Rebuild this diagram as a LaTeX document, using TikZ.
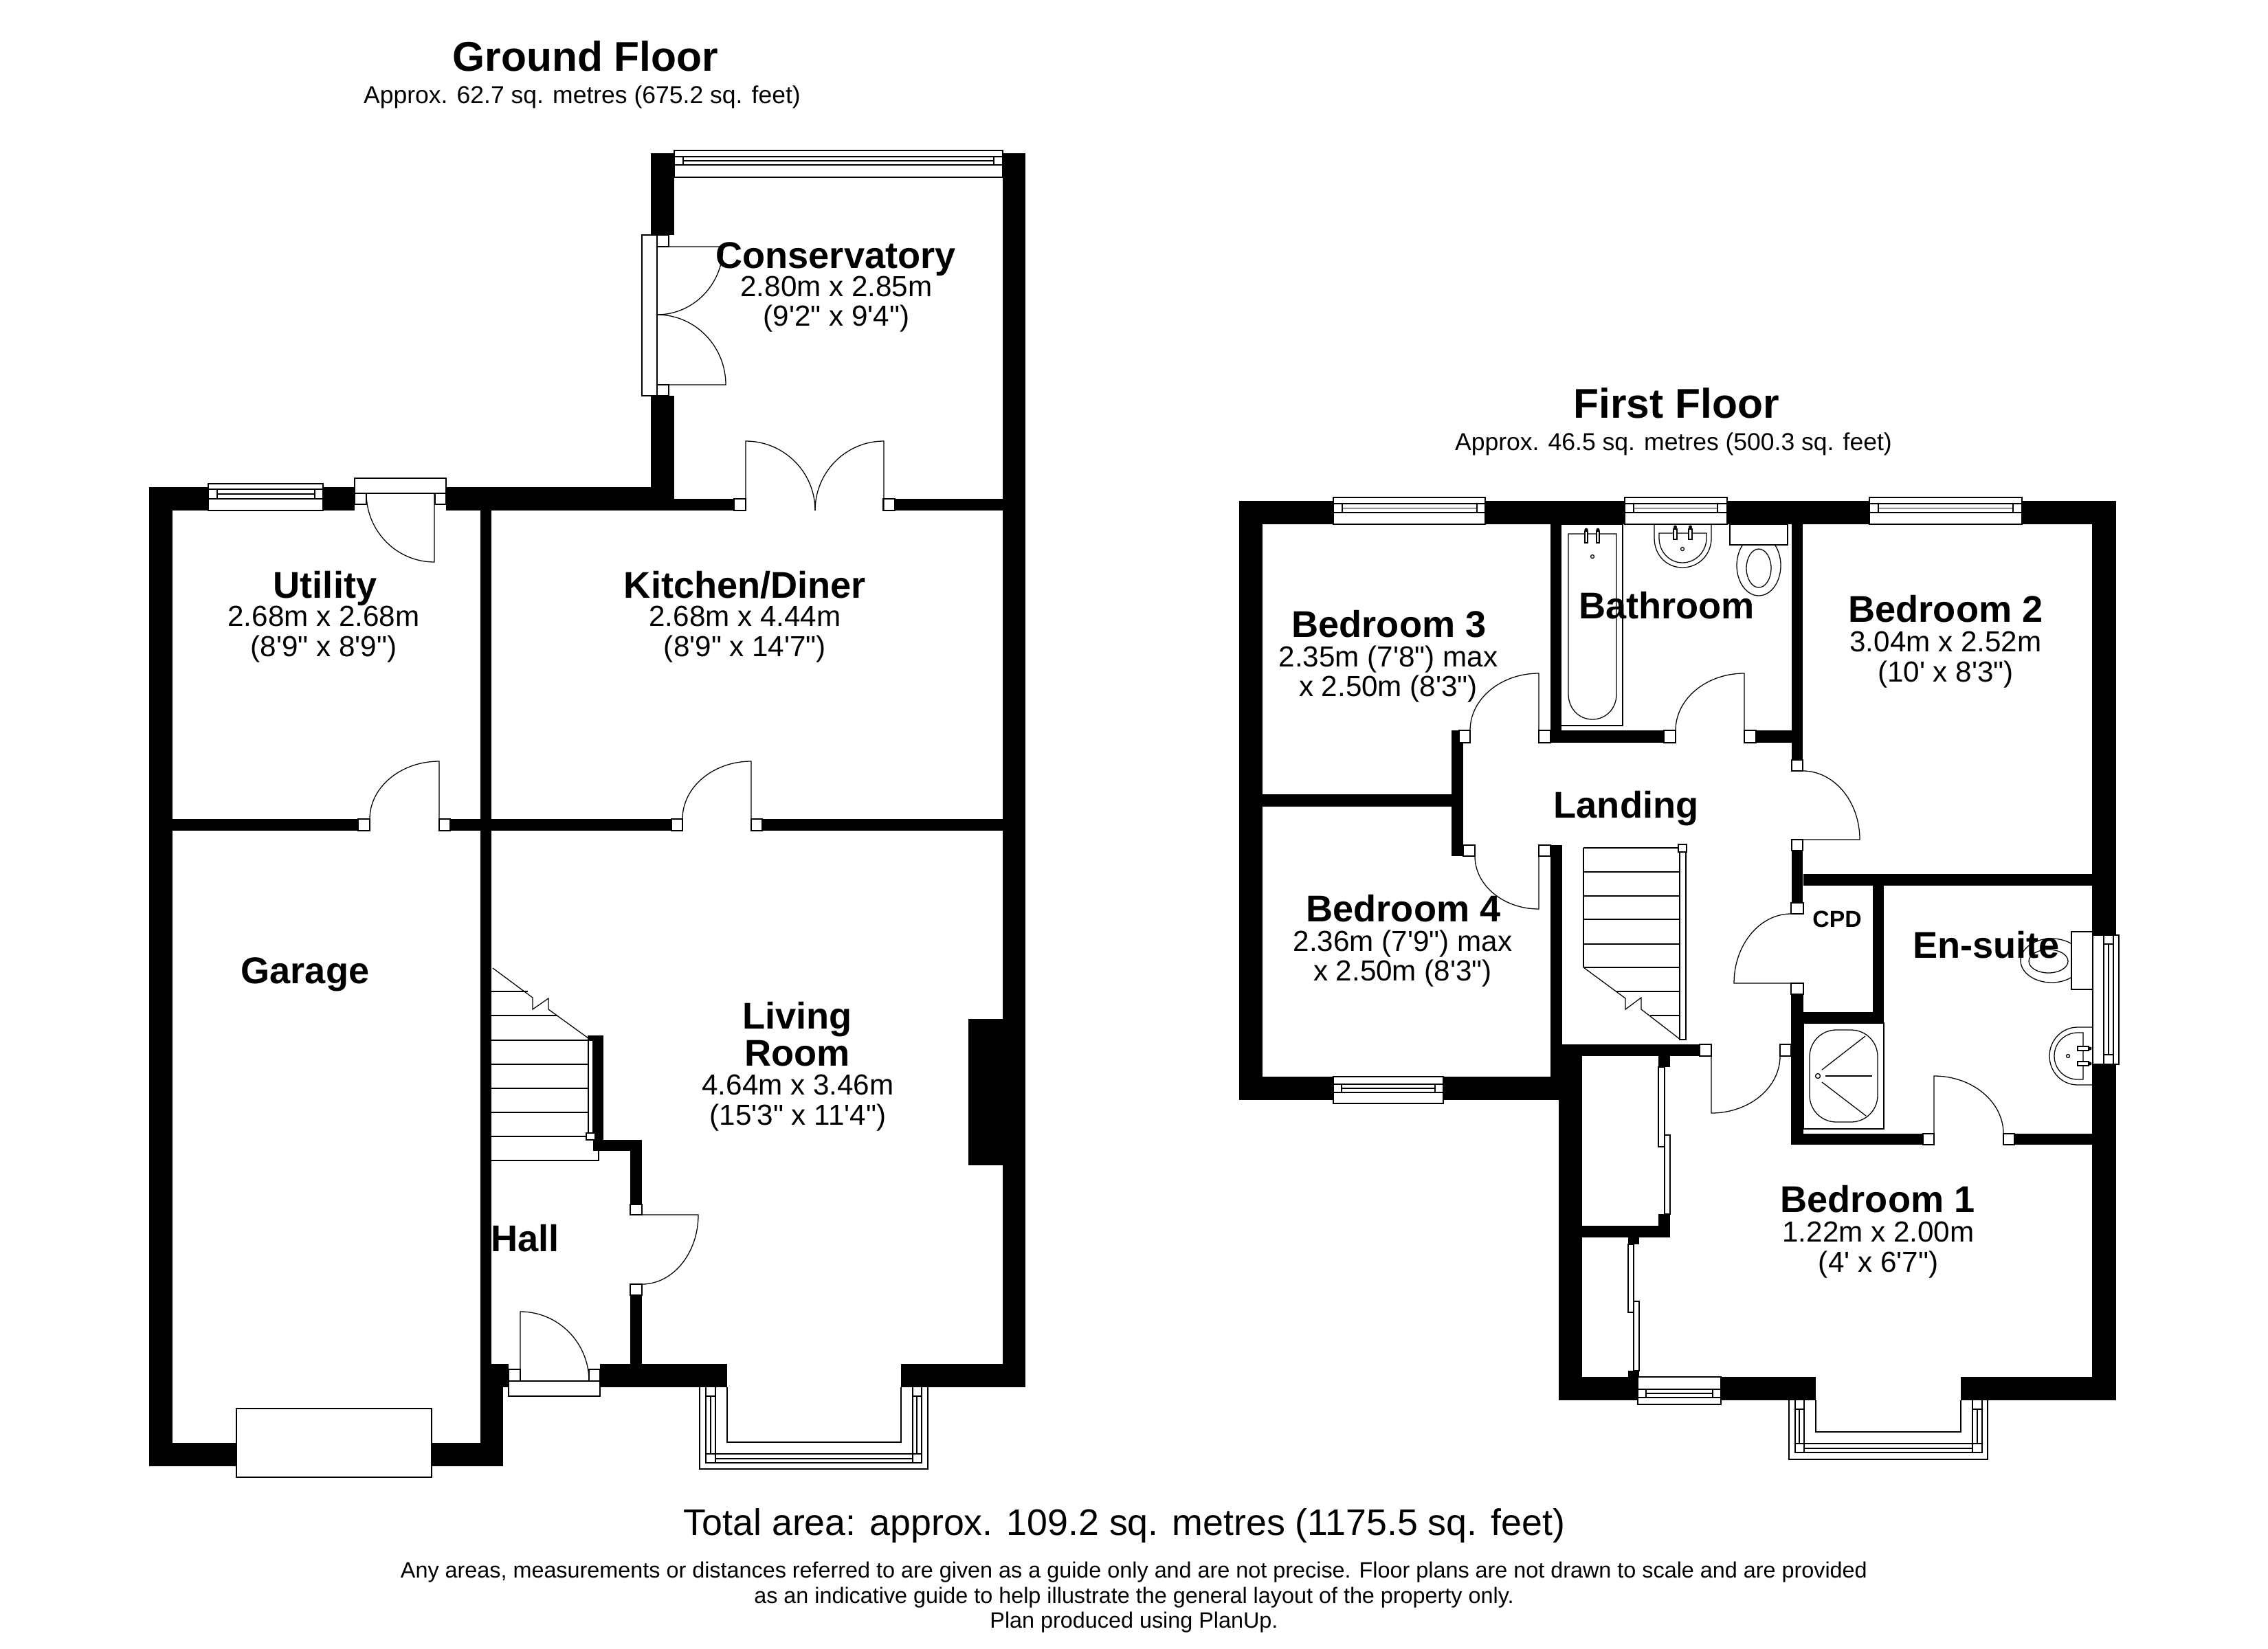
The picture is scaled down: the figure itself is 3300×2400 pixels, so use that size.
\documentclass[tikz,border=0pt]{standalone}
\usepackage{fontspec}
\usetikzlibrary{calc}
\newfontfamily\planfont{Liberation Sans}

% hinge, tip of the leaf, end of the swing
\newcommand{\doorleaf}[3]{\draw[fixture] (#1) -- (#2) .. controls ($(#2)+.5523*(#3)-.5523*(#1)$) and ($(#3)+.5523*(#2)-.5523*(#1)$) .. (#3);}

\tikzset{
  wall/.style={fill=black},
  fixture/.style={draw=black, line width=0.36pt},
  frame/.style={draw=black, fill=white, line width=0.36pt},
  floorname/.style={font=\planfont\bfseries\fontsize{17.2}{20}\selectfont, inner sep=0},
  floorarea/.style={font=\planfont\fontsize{10.1}{12}\selectfont, inner sep=0},
  roomname/.style={font=\planfont\bfseries\fontsize{15.4}{15.4}\selectfont, inner sep=0, align=center, anchor=base},
  roomsize/.style={font=\planfont\fontsize{12}{12.3}\selectfont, inner sep=0, align=center},
  totalarea/.style={font=\planfont\fontsize{15.28}{18}\selectfont, inner sep=0},
  smallprint/.style={font=\planfont\fontsize{9.2}{10.4}\selectfont, inner sep=0, align=center}
}

\begin{document}
\begin{tikzpicture}[x=0.01cm, y=-0.01cm]
    \useasboundingbox (0,0) rectangle (3300,2400);
    \fill[white] (0,0) rectangle (3300,2400);

    % ground floor: the walls
    \fill[wall] (947,223) rectangle (981,342);
    \fill[wall] (947,576) rectangle (981,743);
    \fill[wall] (1459,223) rectangle (1492,2019);
    \fill[wall] (217,709) rectangle (516,743);
    \fill[wall] (649,709) rectangle (947,743);
    \fill[wall] (947,726) rectangle (1068,743);
    \fill[wall] (1302,726) rectangle (1459,743);
    \fill[wall] (217,709) rectangle (251,2134);
    \fill[wall] (699,743) rectangle (715,1985);
    \fill[wall] (699,1985) rectangle (740,2019);
    \fill[wall] (699,2019) rectangle (732,2134);
    \fill[wall] (217,2100) rectangle (732,2134);
    \fill[wall] (251,1192) rectangle (521,1209);
    \fill[wall] (655,1192) rectangle (699,1209);
    \fill[wall] (715,1192) rectangle (977,1209);
    \fill[wall] (1109,1192) rectangle (1459,1209);
    \fill[wall] (873,1985) rectangle (1058,2019);
    \fill[wall] (1311,1985) rectangle (1492,2019);
    \fill[wall] (917,1659) rectangle (934,1753);
    \fill[wall] (917,1885) rectangle (934,1985);
    \fill[wall] (871,1659) rectangle (934,1675);
    \fill[wall] (863,1507) rectangle (878,1675);
    \fill[wall] (855,1507) rectangle (878,1514);
    \fill[wall] (1409,1483) rectangle (1459,1696);

    % ground floor: door jambs
    \foreach \xa/\ya/\xb/\yb in {956/342/973/359, 956/560/973/576, 1068/726/1085/743, 1285/726/1302/743,
        516/718/533/734, 633/718/649/734, 521/1192/538/1209, 639/1192/655/1209, 977/1192/993/1209,
        1093/1192/1109/1209, 917/1753/934/1768, 917/1869/934/1885, 740/1993/757/2010, 857/1993/873/2010}
      \draw[frame] (\xa,\ya) rectangle (\xb,\yb);

    % ground floor: the doors
    \draw[frame] (934,342) rectangle (956,576);
    \doorleaf{956,359}{1052,359}{956,458}
    \doorleaf{956,560}{1056,560}{956,458}
    \doorleaf{1085,743}{1085,642}{1186,743}
    \doorleaf{1286,743}{1286,642}{1186,743}
    \draw[frame] (516,696) rectangle (649,718);
    \doorleaf{632,718}{632,818}{533,718}
    \doorleaf{639,1192}{639,1108}{538,1192}
    \doorleaf{1093,1192}{1093,1108}{993,1192}
    \doorleaf{934,1768}{1016,1768}{934,1869}
    \draw[frame] (740,2010) rectangle (873,2032);
    \doorleaf{757,2010}{757,1909}{857,2010}
    \draw[frame] (344,2050) rectangle (628,2150);

    % ground floor: the bay
    \draw[fixture] (1018,2019) -- (1018,2138) -- (1350,2138) -- (1350,2019);
    \draw[fixture] (1027,2019) -- (1027,2129) -- (1341,2129) -- (1341,2019);
    \draw[fixture] (1058,2019) -- (1058,2099) -- (1311,2099) -- (1311,2019);
    \draw[fixture] (1041,2019) -- (1041,2129);
    \draw[fixture] (1328,2019) -- (1328,2129);
    \draw[fixture] (1027,2032) -- (1041,2032);
    \draw[fixture] (1328,2032) -- (1341,2032);
    \draw[fixture] (1034,2032) -- (1034,2116);
    \draw[fixture] (1334,2032) -- (1334,2116);
    \draw[fixture] (1027,2116) -- (1341,2116);
    \draw[fixture] (1041,2123) -- (1328,2123);

    % ground floor: the stairs
    \foreach \y in {1514,1549,1584,1619,1654}
      \draw[fixture] (715,\y) -- (856,\y);
    \draw[fixture] (715,1443) -- (768,1443);
    \draw[fixture] (715,1478) -- (811,1478);
    \draw[fixture] (715,1689) -- (871,1689) -- (871,1675);
    \draw[fixture] (717,1409) -- (775,1452) -- (775,1469) -- (798,1453) -- (798,1469) -- (856,1511);
    \draw[frame] (856,1514) rectangle (863,1653);
    \draw[frame] (853,1649) rectangle (866,1659);

    % first floor: the walls
    \fill[wall] (1803,729) rectangle (3079,763);
    \fill[wall] (1803,729) rectangle (1837,1601);
    \fill[wall] (1803,1567) rectangle (2268,1601);
    \fill[wall] (3044,729) rectangle (3079,2038);
    \fill[wall] (1837,1156) rectangle (2112,1174);
    \fill[wall] (2112,1063) rectangle (2129,1246);
    \fill[wall] (2256,763) rectangle (2272,1081);
    \fill[wall] (2256,1063) rectangle (2421,1081);
    \fill[wall] (2555,1063) rectangle (2607,1081);
    \fill[wall] (2607,763) rectangle (2623,1106);
    \fill[wall] (2607,1238) rectangle (2623,1315);
    \fill[wall] (2606,1447) rectangle (2624,1666);
    \fill[wall] (2256,1230) rectangle (2273,1567);
    \fill[wall] (2268,1520) rectangle (2302,2038);
    \fill[wall] (2268,1520) rectangle (2473,1537);
    \fill[wall] (2268,2004) rectangle (2642,2038);
    \fill[wall] (2853,2004) rectangle (3079,2038);
    \fill[wall] (2624,1272) rectangle (3044,1289);
    \fill[wall] (2725,1289) rectangle (2741,1489);
    \fill[wall] (2624,1473) rectangle (2741,1489);
    \fill[wall] (2606,1650) rectangle (2798,1666);
    \fill[wall] (2931,1650) rectangle (3044,1666);
    \fill[wall] (2302,1784) rectangle (2430,1801);
    \fill[wall] (2413,1767) rectangle (2430,1801);
    \fill[wall] (2413,1537) rectangle (2430,1553);
    \fill[wall] (2369,1801) rectangle (2385,1811);
    \fill[wall] (2369,1995) rectangle (2385,2004);

    % first floor: door jambs
    \foreach \xa/\ya/\xb/\yb in {2123/1063/2139/1081, 2239/1063/2256/1081, 2421/1063/2438/1081,
        2538/1063/2555/1081, 2607/1106/2623/1122, 2607/1222/2623/1238, 2606/1314/2624/1330,
        2606/1431/2624/1447, 2129/1230/2146/1246, 2239/1230/2256/1246, 2473/1520/2490/1537,
        2590/1520/2606/1537, 2798/1650/2814/1666, 2915/1650/2931/1666}
      \draw[frame] (\xa,\ya) rectangle (\xb,\yb);

    % first floor: the doors
    \doorleaf{2239,1063}{2239,980}{2139,1063}
    \doorleaf{2538,1063}{2538,980}{2438,1063}
    \doorleaf{2623,1222}{2706,1222}{2623,1122}
    \doorleaf{2239,1246}{2239,1323}{2146,1246}
    \doorleaf{2606,1431}{2523,1431}{2606,1330}
    \doorleaf{2490,1537}{2490,1620}{2590,1537}
    \doorleaf{2814,1650}{2814,1566}{2915,1650}
    \draw[frame] (2413,1553) rectangle (2422,1669);
    \draw[frame] (2422,1652) rectangle (2430,1767);
    \draw[frame] (2369,1811) rectangle (2377,1910);
    \draw[frame] (2377,1894) rectangle (2385,1995);

    % the windows of both floors: x of frame and pane, y of frame and pane
    \foreach \xa/\xb/\xc/\xd/\ya/\yb/\yc/\yd in {981/994/1446/1459/219/228/240/258, 303/316/458/470/704/712/726/743,
        1940/1953/2149/2161/724/733/746/763, 2364/2377/2499/2513/724/733/746/763, 2720/2733/2929/2942/724/733/746/763,
        1940/1952/2088/2100/1567/1578/1590/1606, 2383/2395/2492/2504/2004/2022/2034/2044} {
      \draw[frame] (\xa,\ya) rectangle (\xd,\yd);
      \draw[fixture] (\xa,\yb) -- (\xd,\yb);
      \draw[fixture] (\xa,\yc) -- (\xd,\yc);
      \draw[fixture] (\xb,\yb) -- (\xb,\yc);
      \draw[fixture] (\xc,\yb) -- (\xc,\yc);
      \draw[fixture] (\xb,{(\yb+\yc)/2}) -- (\xc,{(\yb+\yc)/2});
    }

    % first floor: the side window
    \draw[frame] (3045,1361) rectangle (3083,1549);
    \draw[fixture] (3061,1361) -- (3061,1549);
    \draw[fixture] (3075,1361) -- (3075,1549);
    \draw[fixture] (3061,1374) -- (3075,1374);
    \draw[fixture] (3061,1535) -- (3075,1535);
    \draw[fixture] (3068,1374) -- (3068,1535);

    % first floor: the bay
    \draw[fixture] (2603,2038) -- (2603,2124) -- (2892,2124) -- (2892,2038);
    \draw[fixture] (2612,2038) -- (2612,2114) -- (2884,2114) -- (2884,2038);
    \draw[fixture] (2642,2038) -- (2642,2084) -- (2853,2084) -- (2853,2038);
    \draw[fixture] (2625,2038) -- (2625,2114);
    \draw[fixture] (2870,2038) -- (2870,2114);
    \draw[fixture] (2612,2051) -- (2625,2051);
    \draw[fixture] (2870,2051) -- (2884,2051);
    \draw[fixture] (2618,2051) -- (2618,2101);
    \draw[fixture] (2877,2051) -- (2877,2101);
    \draw[fixture] (2612,2101) -- (2884,2101);
    \draw[fixture] (2625,2108) -- (2870,2108);

    % first floor: the stairs
    \foreach \y in {1234,1269,1304,1338,1374,1408}
      \draw[fixture] (2304,\y) -- (2444,\y);
    \draw[fixture] (2304,1234) -- (2304,1408);
    \draw[fixture] (2352,1443) -- (2444,1443);
    \draw[fixture] (2401,1478) -- (2444,1478);
    \draw[fixture] (2304,1408) -- (2365,1453) -- (2365,1469) -- (2388,1452) -- (2388,1469) -- (2445,1513);
    \draw[frame] (2444,1234) rectangle (2453,1513);
    \draw[frame] (2442,1229) rectangle (2454,1240);

    % bathroom: bath, basin and wc
    \draw[fixture] (2272,763) -- (2361,763) -- (2361,1056) -- (2272,1056);
    \draw[fixture] (2282,777) -- (2352,777) -- (2352,1010) .. controls (2352,1032) and (2336,1047) .. (2317,1047)
        .. controls (2298,1047) and (2282,1032) .. (2282,1010) -- cycle;
    \draw[frame] (2306,773) rectangle (2310,790);
    \draw[frame] (2323,773) rectangle (2327,790);
    \fill[wall] (2308,771) circle (2.5);
    \fill[wall] (2325,771) circle (2.5);
    \draw[fixture] (2317,810) circle (2.5);
    \draw[fixture] (2407,763) -- (2407,783) .. controls (2407,808) and (2425,826) .. (2448,826) .. controls (2471,826) and (2490,808) .. (2490,783) -- (2490,763);
    \draw[fixture] (2414,776) -- (2414,783) .. controls (2414,803) and (2429,819) .. (2448,819) .. controls (2467,819) and (2483,803) .. (2483,783) -- (2483,776) -- cycle;
    \draw[frame] (2435,770) rectangle (2440,785);
    \draw[frame] (2457,770) rectangle (2462,785);
    \fill[wall] (2437.5,767) circle (2.5);
    \fill[wall] (2459.5,767) circle (2.5);
    \draw[fixture] (2448,799) circle (2.5);
    \draw[fixture] (2559,823) ellipse (32 and 44);
    \draw[fixture] (2559,827) ellipse (18 and 28);
    \draw[frame] (2517,763) rectangle (2601,793);

    % en-suite: wc, basin and shower
    \draw[fixture] (2985,1398) ellipse (45 and 32);
    \draw[fixture] (2980.5,1399) ellipse (28.5 and 17);
    \draw[frame] (3014,1356) rectangle (3045,1440);
    \draw[fixture] (3045,1495) -- (3023,1495) .. controls (3000,1495) and (2982,1514) .. (2982,1537) .. controls (2982,1560) and (3000,1579) .. (3023,1579) -- (3045,1579);
    \draw[fixture] (3031,1503) -- (3023,1503) .. controls (3004,1503) and (2989,1518) .. (2989,1537) .. controls (2989,1556) and (3004,1571) .. (3023,1571) -- (3031,1571) -- cycle;
    \draw[frame] (3023,1523) rectangle (3039,1529);
    \draw[frame] (3023,1545) rectangle (3039,1551);
    \fill[wall] (3041,1526) circle (2.5);
    \fill[wall] (3041,1548) circle (2.5);
    \draw[fixture] (3009,1537) circle (2.5);
    \draw[fixture] (2624,1489) rectangle (2741,1643);
    \draw[fixture, rounded corners=11] (2633,1499) rectangle (2732,1633);
    \draw[fixture] (2645,1566) circle (3.5);
    \draw[fixture] (2651,1557) -- (2714,1508);
    \draw[fixture] (2656,1566) -- (2724,1566);
    \draw[fixture] (2651,1575) -- (2715,1624);

    % the texts
    \node[floorname] (groundfloor) at (852,82) {Ground Floor};
    \node[floorarea] (groundarea) at (847,141) {Approx. 62.7 sq. metres (675.2 sq. feet)};
    \node[floorname] (firstfloor) at (2439,587) {First Floor};
    \node[floorarea] (firstarea) at (2435,646) {Approx. 46.5 sq. metres (500.3 sq. feet)};

    \node[roomname] (conservatory) at (1216,390) {Conservatory};
    \node[roomsize] (conservatorysize) at (1217,443) {2.80m x 2.85m\\(9'2" x 9'4")};
    \node[roomname] (utility) at (473,870) {Utility};
    \node[roomsize] (utilitysize) at (471,923) {2.68m x 2.68m\\(8'9" x 8'9")};
    \node[roomname] (kitchen) at (1084,870) {Kitchen/Diner};
    \node[roomsize] (kitchensize) at (1084,923) {2.68m x 4.44m\\(8'9" x 14'7")};
    \node[roomname] (garage) at (444,1431) {Garage};
    \node[roomname, anchor=center] (living) at (1160,1505) {Living\\Room};
    \node[roomsize] (livingsize) at (1161,1605) {4.64m x 3.46m\\(15'3" x 11'4")};
    \node[roomname] (hall) at (764,1821) {Hall};

    \node[roomname] (bedthree) at (2021,927) {Bedroom 3};
    \node[roomsize] (bedthreesize) at (2020,981) {2.35m (7'8") max\\x 2.50m (8'3")};
    \node[roomname] (bathroom) at (2425,900) {Bathroom};
    \node[roomname] (bedtwo) at (2831,905) {Bedroom 2};
    \node[roomsize] (bedtwosize) at (2831,960) {3.04m x 2.52m\\(10' x 8'3")};
    \node[roomname] (landing) at (2366,1190) {Landing};
    \node[roomname] (bedfour) at (2042,1341) {Bedroom 4};
    \node[roomsize] (bedfoursize) at (2041,1395) {2.36m (7'9") max\\x 2.50m (8'3")};
    \node[roomname, font=\planfont\bfseries\fontsize{9.6}{11}\selectfont] (cupboard) at (2673,1349) {CPD};
    \node[roomname] (ensuite) at (2890,1394) {En-suite};
    \node[roomname] (bedone) at (2732,1764) {Bedroom 1};
    \node[roomsize] (bedonesize) at (2733,1819) {1.22m x 2.00m\\(4' x 6'7")};

    \node[totalarea] (total) at (1636,2221) {Total area: approx. 109.2 sq. metres (1175.5 sq. feet)};
    \node[smallprint] (disclaimer) at (1650,2325) {Any areas, measurements or distances referred to are given as a guide only and are not precise. Floor plans are not drawn to scale and are provided\\as an indicative guide to help illustrate the general layout of the property only.\\Plan produced using PlanUp.};
\end{tikzpicture}
\end{document}
